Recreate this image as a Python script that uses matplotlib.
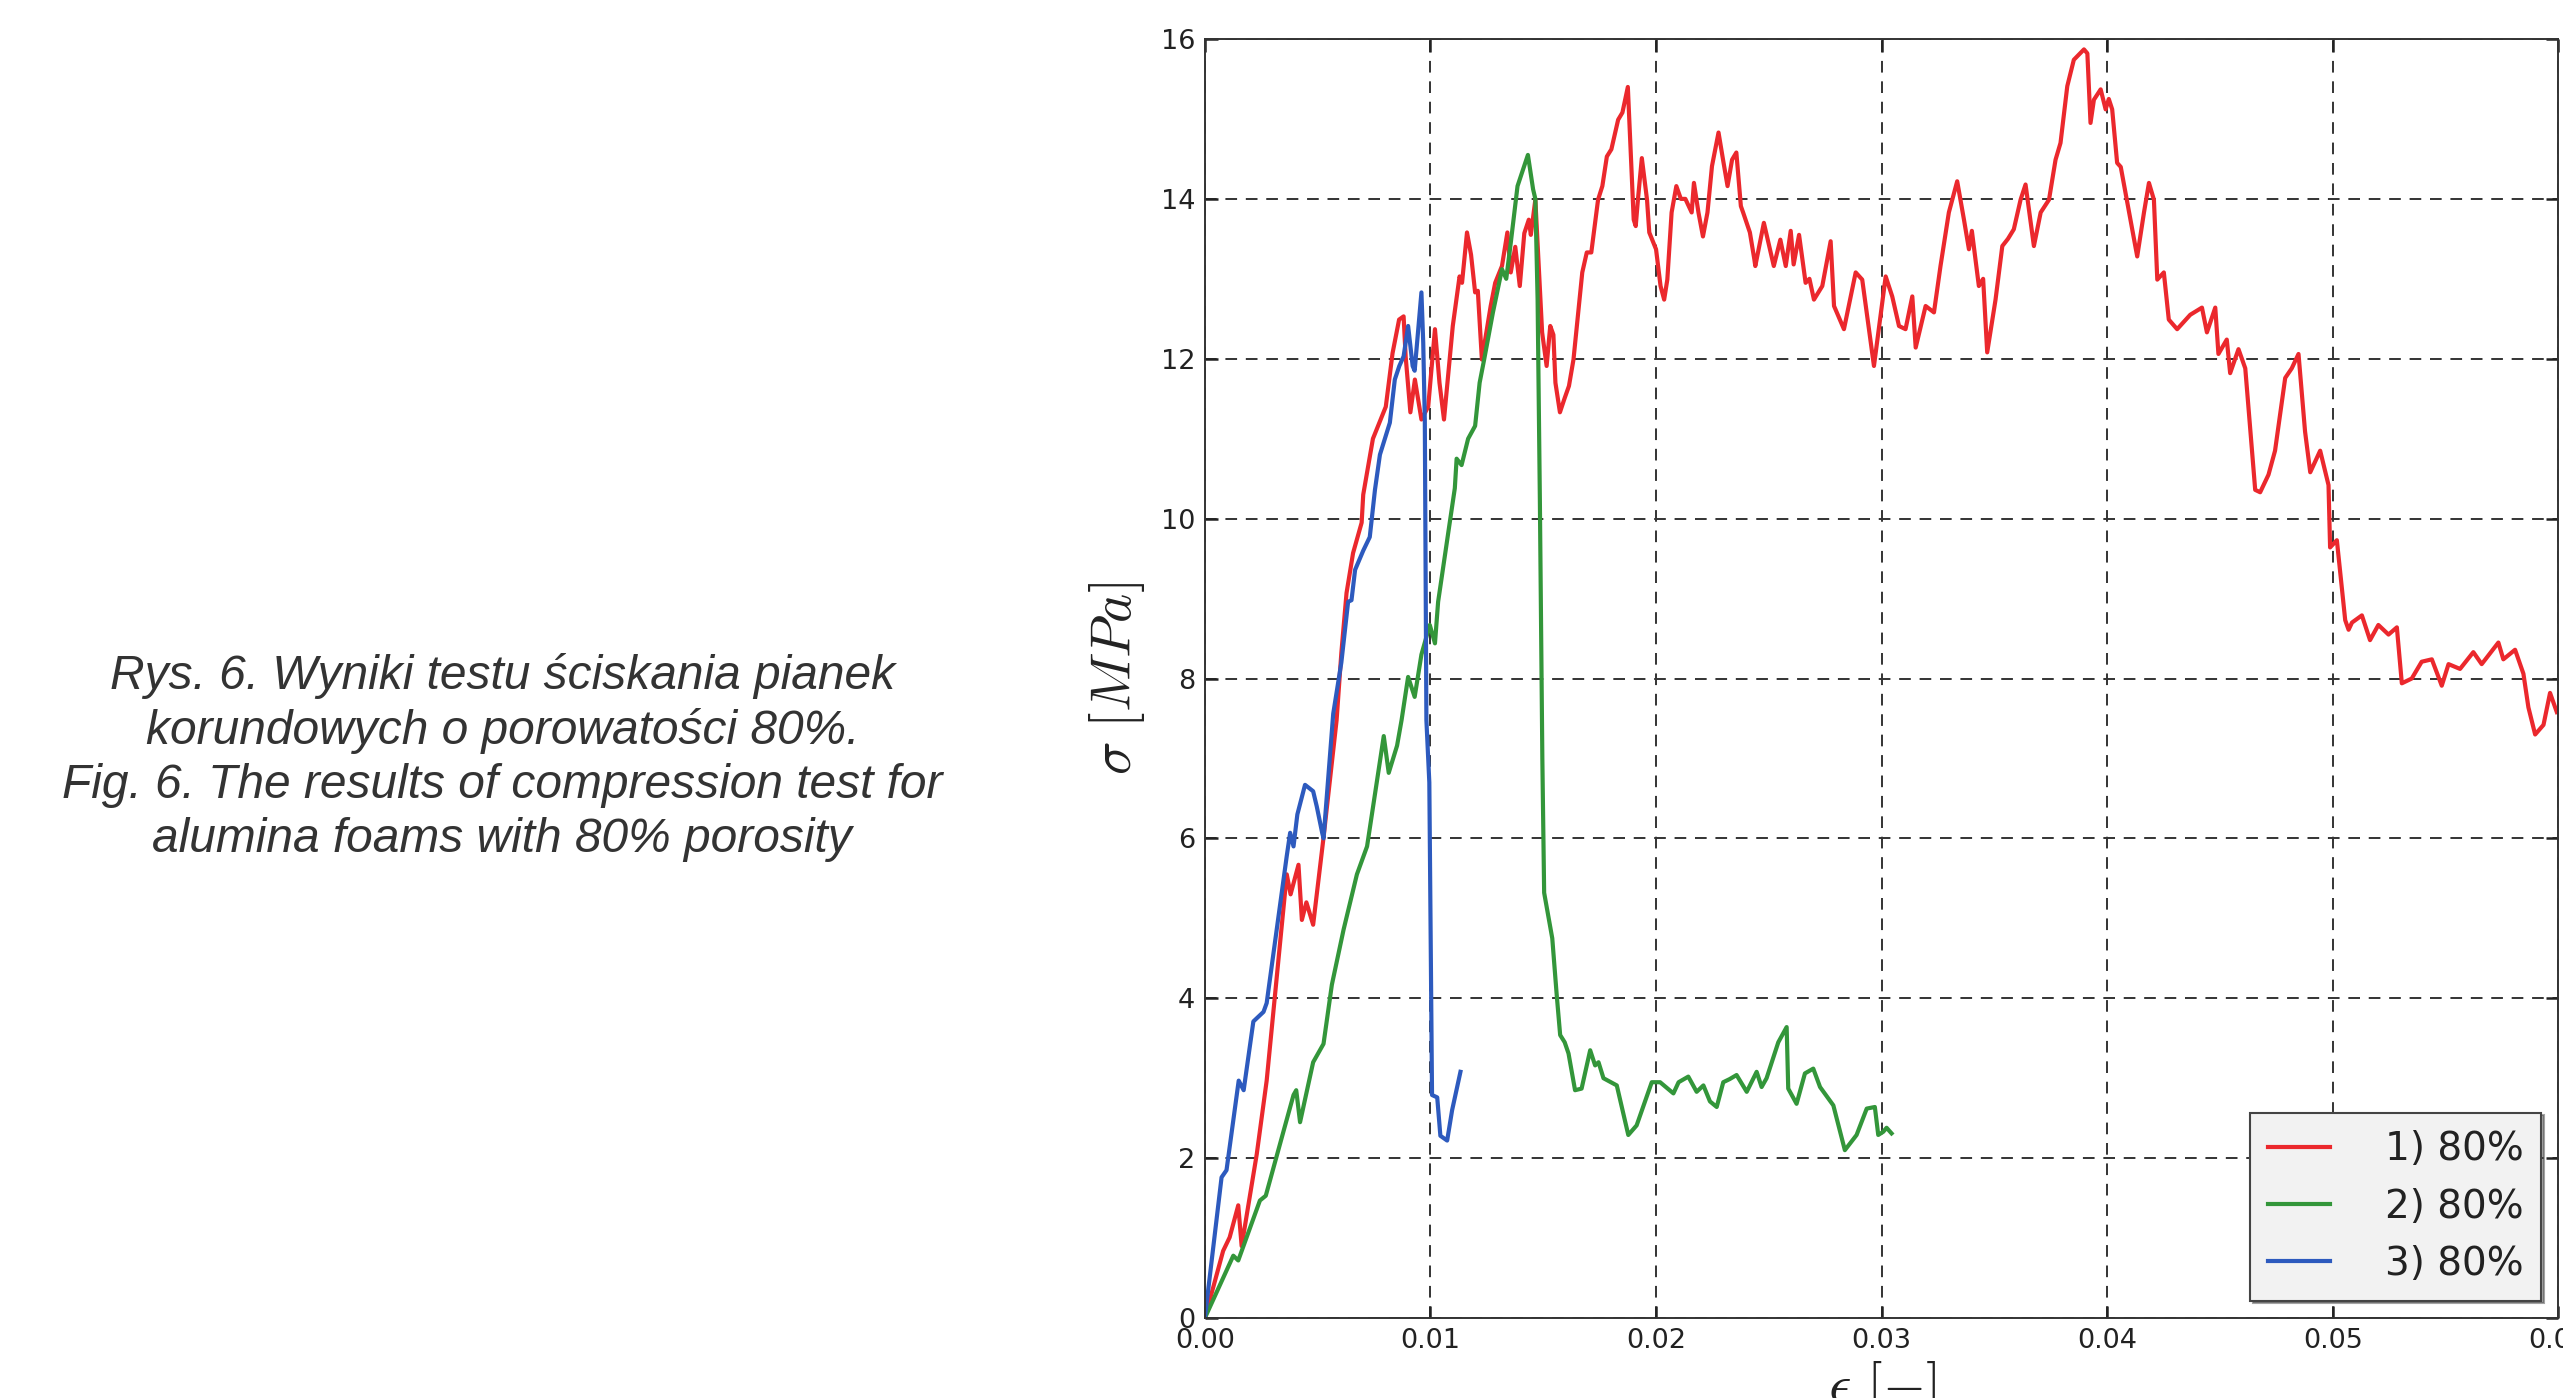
import numpy as np
import matplotlib
matplotlib.use('Agg')
import matplotlib.pyplot as plt
plt.rcParams['mathtext.fontset'] = 'cm'

# krzywe: odksztalcenie [-], naprezenie [MPa]
eps_1 = [0, 0.00081, 0.0011, 0.00148, 0.00163, 0.0023, 0.00274, 0.00363, 0.0038, 0.00415, 0.0043,
         0.0045, 0.0048, 0.00526, 0.00584, 0.00605, 0.00628, 0.00657, 0.00695, 0.00702, 0.00745,
         0.00802, 0.00832, 0.00861, 0.00881, 0.0089, 0.00911, 0.00931, 0.0096, 0.0099, 0.0102,
         0.0104, 0.0106, 0.01099, 0.01129, 0.0114, 0.01162, 0.0118, 0.01198, 0.0121, 0.01228,
         0.01267, 0.01287, 0.01317, 0.01341, 0.01356, 0.01376, 0.01396, 0.01416, 0.01436, 0.01445,
         0.01465, 0.01495, 0.01515, 0.01531, 0.01545, 0.01554, 0.01574, 0.01594, 0.01614, 0.01634,
         0.01673, 0.01693, 0.01713, 0.01743, 0.01762, 0.01782, 0.01802, 0.01832, 0.01851, 0.01875,
         0.01901, 0.0191, 0.0192, 0.01937, 0.0196, 0.0197, 0.02, 0.0202, 0.02036, 0.0205,
         0.02069, 0.0209, 0.0211, 0.0213, 0.02158, 0.02168, 0.02188, 0.02208, 0.02228, 0.02248,
         0.02277, 0.02297, 0.02317, 0.02337, 0.02356, 0.02376, 0.02386, 0.02416, 0.02436, 0.0244,
         0.02478, 0.02522, 0.02551, 0.02575, 0.02597, 0.0261, 0.02634, 0.02663, 0.0268, 0.027,
         0.02737, 0.02774, 0.02789, 0.02833, 0.02885, 0.02914, 0.02966, 0.03018, 0.03047, 0.03077,
         0.03106, 0.03136, 0.03151, 0.03195, 0.03232, 0.03261, 0.03298, 0.03335, 0.03365, 0.03387,
         0.034, 0.03431, 0.0345, 0.03468, 0.03505, 0.03535, 0.0356, 0.03586, 0.03616, 0.03638,
         0.03675, 0.03705, 0.03742, 0.03771, 0.03793, 0.03823, 0.03852, 0.03897, 0.03912, 0.03926,
         0.03941, 0.03971, 0.03993, 0.04007, 0.04022, 0.04044, 0.0406, 0.04103, 0.04133, 0.04163,
         0.04185, 0.04207, 0.04222, 0.04251, 0.04273, 0.0431, 0.04368, 0.0442, 0.04442, 0.04479,
         0.04493, 0.0453, 0.04545, 0.04582, 0.04612, 0.04656, 0.04678, 0.04715, 0.04744, 0.04789,
         0.04818, 0.04848, 0.04877, 0.049, 0.04944, 0.04981, 0.04988, 0.05018, 0.05055, 0.0507,
         0.05085, 0.05129, 0.05165, 0.05202, 0.05247, 0.05284, 0.05306, 0.0535, 0.05394, 0.05439,
         0.05483, 0.05513, 0.05564, 0.05623, 0.0566, 0.05734, 0.05756, 0.05808, 0.05845, 0.05867,
         0.05897, 0.05934, 0.05963, 0.05993]
sig_1 = [0, 0.84, 1.01, 1.41, 0.9, 2.05, 2.97, 5.55, 5.3, 5.67, 4.98,
         5.2, 4.92, 6.01, 7.48, 8.32, 9.07, 9.57, 9.95, 10.3, 11.0,
         11.4, 12.07, 12.49, 12.53, 12.03, 11.33, 11.74, 11.24, 11.4, 12.37,
         11.7, 11.24, 12.41, 13.03, 12.95, 13.58, 13.3, 12.83, 12.85, 11.99,
         12.66, 12.95, 13.16, 13.58, 13.08, 13.4, 12.91, 13.57, 13.74, 13.55,
         13.99, 12.33, 11.91, 12.41, 12.3, 11.7, 11.33, 11.5, 11.66, 11.99,
         13.08, 13.33, 13.33, 13.99, 14.16, 14.53, 14.62, 14.99, 15.08, 15.4,
         13.74, 13.66, 14.0, 14.51, 13.99, 13.58, 13.37, 12.91, 12.74, 12.99,
         13.83, 14.16, 14.0, 14.0, 13.83, 14.2, 13.83, 13.53, 13.83, 14.41,
         14.83, 14.49, 14.16, 14.49, 14.58, 13.91, 13.83, 13.58, 13.24, 13.16,
         13.7, 13.16, 13.49, 13.16, 13.6, 13.18, 13.55, 12.95, 13.0, 12.74,
         12.91, 13.47, 12.66, 12.37, 13.08, 12.99, 11.91, 13.03, 12.78, 12.41,
         12.37, 12.78, 12.14, 12.66, 12.58, 13.16, 13.83, 14.22, 13.74, 13.37,
         13.6, 12.91, 13.0, 12.08, 12.74, 13.41, 13.5, 13.62, 13.99, 14.18,
         13.41, 13.83, 13.99, 14.49, 14.7, 15.41, 15.74, 15.87, 15.82, 14.95,
         15.24, 15.37, 15.12, 15.25, 15.12, 14.45, 14.4, 13.74, 13.28, 13.83,
         14.2, 13.99, 12.99, 13.08, 12.49, 12.37, 12.55, 12.64, 12.33, 12.64,
         12.06, 12.24, 11.82, 12.12, 11.88, 10.36, 10.33, 10.55, 10.85, 11.76,
         11.88, 12.06, 11.09, 10.58, 10.85, 10.42, 9.64, 9.73, 8.73, 8.61,
         8.7, 8.79, 8.48, 8.67, 8.55, 8.64, 7.94, 8.0, 8.21, 8.24,
         7.91, 8.18, 8.12, 8.33, 8.18, 8.45, 8.24, 8.36, 8.06, 7.64,
         7.3, 7.42, 7.82, 7.58]

eps_2 = [0, 0.00126, 0.00148, 0.00244, 0.0027, 0.00348, 0.00393, 0.00405, 0.00422, 0.0048, 0.00526,
         0.00563, 0.00615, 0.00674, 0.00719, 0.00793, 0.00815, 0.00852, 0.00872, 0.00901, 0.0093,
         0.0096, 0.00997, 0.0102, 0.01034, 0.01086, 0.01108, 0.01116, 0.01138, 0.01167, 0.01198,
         0.01218, 0.01238, 0.01277, 0.01317, 0.01336, 0.01356, 0.01386, 0.01406, 0.01432, 0.01455,
         0.01465, 0.01475, 0.01485, 0.01496, 0.01504, 0.0154, 0.0156, 0.01575, 0.01595, 0.01612,
         0.01641, 0.0167, 0.01708, 0.0173, 0.01745, 0.01767, 0.01826, 0.01877, 0.01914, 0.01981,
         0.02018, 0.02077, 0.021, 0.02143, 0.0218, 0.0221, 0.02239, 0.02269, 0.02298, 0.02327,
         0.02357, 0.02402, 0.02446, 0.02468, 0.0249, 0.02542, 0.02579, 0.02586, 0.02623, 0.0266,
         0.02697, 0.02727, 0.02786, 0.02837, 0.02889, 0.02934, 0.0297, 0.02985, 0.03007, 0.03022,
         0.03044]
sig_2 = [0, 0.78, 0.72, 1.47, 1.53, 2.33, 2.79, 2.85, 2.45, 3.2, 3.43,
         4.17, 4.86, 5.55, 5.9, 7.28, 6.82, 7.16, 7.48, 8.02, 7.77,
         8.3, 8.67, 8.44, 8.96, 9.96, 10.38, 10.75, 10.67, 11.0, 11.16,
         11.7, 11.99, 12.58, 13.12, 13.0, 13.45, 14.16, 14.33, 14.55, 14.12,
         14.0, 12.74, 10.24, 7.0, 5.32, 4.75, 4.03, 3.54, 3.45, 3.31,
         2.85, 2.87, 3.35, 3.16, 3.2, 3.0, 2.91, 2.29, 2.41, 2.95,
         2.95, 2.81, 2.95, 3.02, 2.83, 2.91, 2.71, 2.64, 2.95, 2.99,
         3.04, 2.83, 3.08, 2.89, 3.0, 3.45, 3.64, 2.87, 2.68, 3.06,
         3.12, 2.89, 2.66, 2.1, 2.29, 2.62, 2.64, 2.29, 2.33, 2.38,
         2.31]

eps_3 = [0, 0.00074, 0.00096, 0.0015, 0.00172, 0.00215, 0.0026, 0.00274, 0.00363, 0.00378, 0.00393,
         0.0041, 0.00444, 0.0048, 0.00496, 0.0052, 0.00526, 0.00569, 0.00605, 0.00635, 0.0065,
         0.00666, 0.00702, 0.00731, 0.00754, 0.00776, 0.00798, 0.0082, 0.00842, 0.00862, 0.00881,
         0.00901, 0.00921, 0.0093, 0.0096, 0.00968, 0.00975, 0.00982, 0.00995, 0.01007, 0.0103,
         0.01044, 0.01074, 0.01096, 0.01133]
sig_3 = [0, 1.76, 1.85, 2.97, 2.85, 3.71, 3.83, 3.94, 5.78, 6.07, 5.9,
         6.3, 6.67, 6.59, 6.4, 6.07, 6.0, 7.56, 8.2, 8.96, 8.98,
         9.36, 9.6, 9.77, 10.36, 10.8, 11.0, 11.2, 11.74, 11.91, 12.03,
         12.41, 11.91, 11.85, 12.83, 12.2, 11.23, 7.48, 6.7, 2.79, 2.76,
         2.28, 2.22, 2.6, 3.08]

labels = ['1) 80%', '2) 80%', '3) 80%']
colors = ['#eb282d', '#33963a', '#2d5abe']
x_ticks = [0.00, 0.01, 0.02, 0.03, 0.04, 0.05, 0.06]
y_ticks = [0, 2, 4, 6, 8, 10, 12, 14, 16]

caption = ('Rys. 6. Wyniki testu ściskania pianek\n'
           'korundowych o porowatości 80%.\n'
           'Fig. 6. The results of compression test for\n'
           'alumina foams with 80% porosity')

fig = plt.figure(figsize=(25.63, 13.98), dpi=100)
ax = fig.add_axes([0.4701, 0.0572, 0.5281, 0.9149])

for e, s, lab, c in zip([eps_1, eps_2, eps_3], [sig_1, sig_2, sig_3], labels, colors):
    ax.plot(e, s, color=c, lw=3.0, label=lab)

ax.set_xlim(0, 0.06)
ax.set_ylim(0, 16)
ax.set_xticks(x_ticks)
ax.set_yticks(y_ticks)
ax.xaxis.set_major_formatter(matplotlib.ticker.FormatStrFormatter('%.2f'))
ax.tick_params(direction='in', length=9, width=1.8, top=True, right=True,
               labelsize=19.5, colors='#222222', pad=7)
ax.grid(True, color='0.2', lw=1.4, linestyle=(0, (6, 4.5)))
for sp in ax.spines.values():
    sp.set_color('#333333')
    sp.set_linewidth(1.4)

ax.set_ylabel(r'$\sigma\ [MPa]$', fontsize=40, labelpad=10, color='#222222')
ax.set_xlabel(r'$\epsilon\ [-]$', fontsize=40, labelpad=4, color='#222222')

leg = ax.legend(loc='lower right', fontsize=28, frameon=True, shadow=True, fancybox=False,
                handlelength=1.6, handletextpad=1.4, labelspacing=0.5, borderpad=0.45,
                borderaxespad=0.45)
leg.get_frame().set_facecolor('#f2f2f2')
leg.get_frame().set_edgecolor('#444444')
leg.get_frame().set_linewidth(1.5)
for t in leg.get_texts():
    t.set_color('#222222')
for h in leg.get_lines():
    h.set_linewidth(3.0)

fig.text(0.196, 0.458, caption, ha='center', va='center', fontsize=34.5, style='italic',
         family='Liberation Sans', color='#333333', linespacing=1.25)

plt.savefig('out.png', dpi=100)
